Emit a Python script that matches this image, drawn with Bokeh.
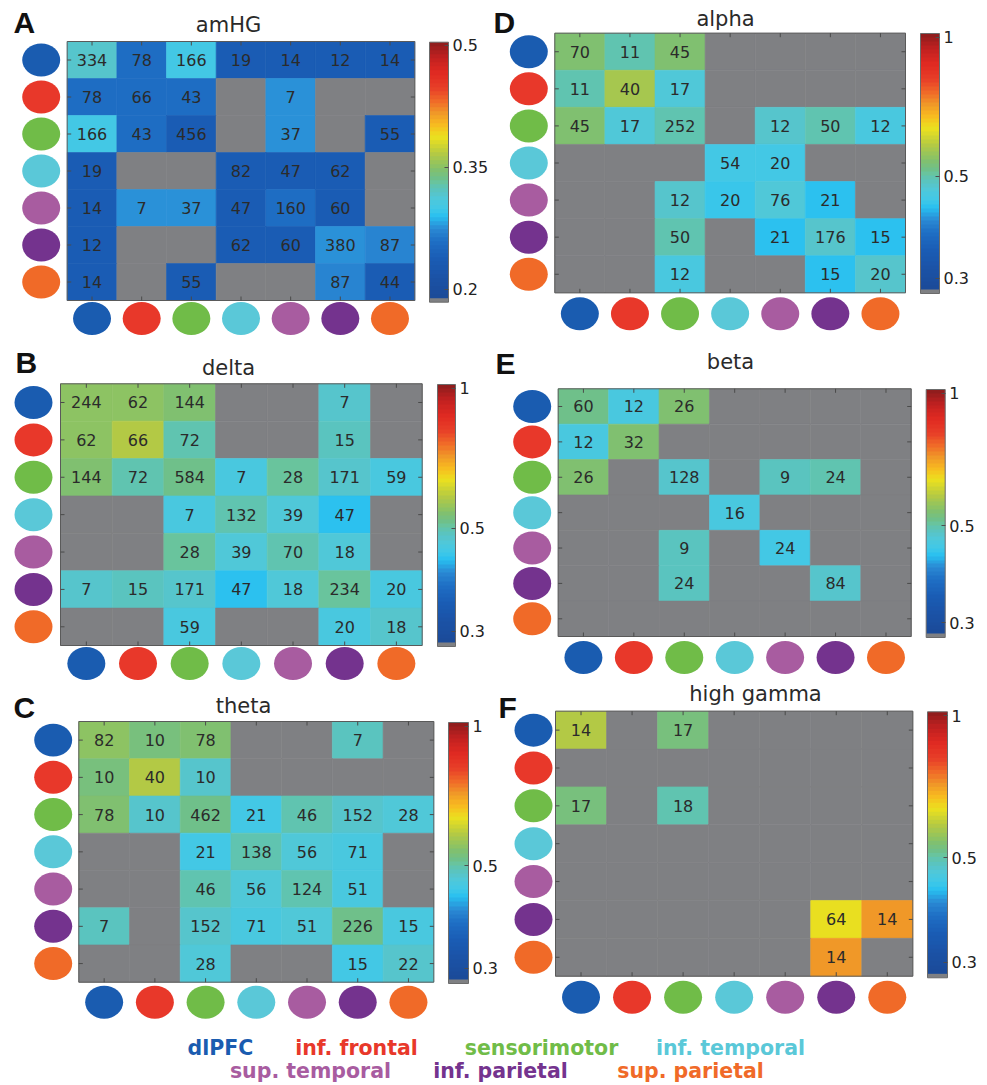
import numpy as np
from bokeh.plotting import figure
from bokeh.models import (LinearColorMapper, LogColorMapper, ColorBar, FixedTicker,
                          CustomJSTickFormatter, Label, Range1d, ColumnDataSource)
from bokeh.layouts import column, row
from bokeh.transform import transform
from bokeh.core.properties import value
from bokeh.embed import file_html
from bokeh.resources import INLINE

# ---------------------------------------------------------------- data
regions = ["dlPFC", "inf. frontal", "sensorimotor", "inf. temporal",
           "sup. temporal", "inf. parietal", "sup. parietal"]
region_colors = ["#1a5cb0", "#e8382a", "#70bc48", "#5ac8d8",
                 "#a85ca0", "#74338e", "#f06a28"]

N = None

# number of electrode pairs per region pair
amhg_counts = [
    [334, 78, 166, 19, 14, 12, 14],
    [78, 66, 43, N, 7, N, N],
    [166, 43, 456, N, 37, N, 55],
    [19, N, N, 82, 47, 62, N],
    [14, 7, 37, 47, 160, 60, N],
    [12, N, N, 62, 60, 380, 87],
    [14, N, 55, N, N, 87, 44],
]
# mean coupling per region pair
amhg_values = [
    [0.318, 0.258, 0.302, 0.236, 0.236, 0.236, 0.236],
    [0.258, 0.258, 0.258, N, 0.274, N, N],
    [0.302, 0.258, 0.236, N, 0.274, N, 0.236],
    [0.236, N, N, 0.236, 0.236, 0.236, N],
    [0.236, 0.274, 0.274, 0.236, 0.258, 0.236, N],
    [0.236, N, N, 0.236, 0.236, 0.274, 0.271],
    [0.236, N, 0.236, N, N, 0.271, 0.236],
]

delta_counts = [
    [244, 62, 144, N, N, 7, N],
    [62, 66, 72, N, N, 15, N],
    [144, 72, 584, 7, 28, 171, 59],
    [N, N, 7, 132, 39, 47, N],
    [N, N, 28, 39, 70, 18, N],
    [7, 15, 171, 47, 18, 234, 20],
    [N, N, 59, N, N, 20, 18],
]
delta_values = [
    [0.545, 0.545, 0.538, N, N, 0.473, N],
    [0.545, 0.581, 0.492, N, N, 0.486, N],
    [0.538, 0.492, 0.518, 0.456, 0.505, 0.479, 0.456],
    [N, N, 0.456, 0.492, 0.467, 0.433, N],
    [N, N, 0.505, 0.467, 0.498, 0.467, N],
    [0.473, 0.486, 0.479, 0.433, 0.467, 0.505, 0.456],
    [N, N, 0.456, N, N, 0.456, 0.479],
]

theta_counts = [
    [82, 10, 78, N, N, 7, N],
    [10, 40, 10, N, N, N, N],
    [78, 10, 462, 21, 46, 152, 28],
    [N, N, 21, 138, 56, 71, N],
    [N, N, 46, 56, 124, 51, N],
    [7, N, 152, 71, 51, 226, 15],
    [N, N, 28, N, N, 15, 22],
]
theta_values = [
    [0.552, 0.531, 0.538, N, N, 0.486, N],
    [0.531, 0.581, 0.479, N, N, N, N],
    [0.538, 0.479, 0.518, 0.444, 0.498, 0.479, 0.467],
    [N, N, 0.444, 0.498, 0.467, 0.456, N],
    [N, N, 0.498, 0.467, 0.498, 0.456, N],
    [0.486, N, 0.479, 0.456, 0.467, 0.518, 0.456],
    [N, N, 0.467, N, N, 0.444, 0.479],
]

alpha_counts = [
    [70, 11, 45, N, N, N, N],
    [11, 40, 17, N, N, N, N],
    [45, 17, 252, N, 12, 50, 12],
    [N, N, N, 54, 20, N, N],
    [N, N, 12, 20, 76, 21, N],
    [N, N, 50, N, 21, 176, 15],
    [N, N, 12, N, N, 15, 20],
]
alpha_values = [
    [0.538, 0.498, 0.538, N, N, N, N],
    [0.498, 0.573, 0.467, N, N, N, N],
    [0.538, 0.467, 0.498, N, 0.479, 0.498, 0.456],
    [N, N, N, 0.444, 0.444, N, N],
    [N, N, 0.479, 0.438, 0.467, 0.427, N],
    [N, N, 0.498, N, 0.427, 0.479, 0.433],
    [N, N, 0.456, N, N, 0.433, 0.479],
]

beta_counts = [
    [60, 12, 26, N, N, N, N],
    [12, 32, N, N, N, N, N],
    [26, N, 128, N, 9, 24, N],
    [N, N, N, 16, N, N, N],
    [N, N, 9, N, 24, N, N],
    [N, N, 24, N, N, 84, N],
    [N, N, N, N, N, N, N],
]
beta_values = [
    [0.518, 0.456, 0.538, N, N, N, N],
    [0.456, 0.538, N, N, N, N, N],
    [0.538, N, 0.479, N, 0.486, 0.498, N],
    [N, N, N, 0.456, N, N, N],
    [N, N, 0.486, N, 0.444, N, N],
    [N, N, 0.486, N, N, 0.479, N],
    [N, N, N, N, N, N, N],
]

hgamma_counts = [
    [14, N, 17, N, N, N, N],
    [N, N, N, N, N, N, N],
    [17, N, 18, N, N, N, N],
    [N, N, N, N, N, N, N],
    [N, N, N, N, N, N, N],
    [N, N, N, N, N, 64, 14],
    [N, N, N, N, N, 14, N],
]
hgamma_values = [
    [0.588, N, 0.531, N, N, N, N],
    [N, N, N, N, N, N, N],
    [0.531, N, 0.492, N, N, N, N],
    [N, N, N, N, N, N, N],
    [N, N, N, N, N, N, N],
    [N, N, N, N, N, 0.635, 0.713],
    [N, N, N, N, N, 0.713, N],
]

amhg_ticks = [0.2, 0.35, 0.5]
band_ticks = [0.3, 0.5, 1]

# ---------------------------------------------------------------- styling
GRAY = "#7f8083"
INK = "#2b2b2b"
FONT = "DejaVu Sans"
# Bokeh's "alphabetic" anchor sits a little below the true baseline
BASE_LIFT = 0.36

jet_stops = [
    (0.00, "#1b4a98"), (0.08, "#1b52a6"), (0.15, "#1a5cb4"), (0.22, "#1e6ec4"),
    (0.27, "#2a88d4"), (0.32, "#28c0f0"), (0.35, "#40c8e8"), (0.37, "#48c8e0"),
    (0.39, "#50c8d8"), (0.41, "#58c4c8"), (0.43, "#5cc4b8"), (0.45, "#68c4a0"),
    (0.47, "#70c088"), (0.50, "#80c070"), (0.52, "#90c460"), (0.56, "#b0c848"),
    (0.57, "#b8cc40"), (0.63, "#ece01e"), (0.68, "#f8b820"), (0.72, "#f09a28"),
    (0.77, "#f06a28"), (0.82, "#e84028"), (0.88, "#e02a22"), (0.94, "#c02020"),
    (1.00, "#8a1c1c"),
]


def banded_palette(stops, n):
    ts = np.array([s[0] for s in stops])
    rgb = np.array([[int(c[i:i + 2], 16) for i in (1, 3, 5)] for _, c in stops], float)
    out = []
    for k in range(n):
        t = (k + 0.5) / n
        r, g, b = (np.interp(t, ts, rgb[:, ch]) for ch in range(3))
        out.append("#%02x%02x%02x" % (int(round(r)), int(round(g)), int(round(b))))
    return out


PALETTE = [GRAY] + banded_palette(jet_stops, 63)

# panel geometry in page pixels: heat box (x0, x1, y0, y1), colour bar box,
# title centre/baseline, letter left/baseline, ellipse offsets
panels = [
    dict(letter="A", title="amHG", counts=amhg_counts, vals=amhg_values, log=False,
         ticks=amhg_ticks, lim=(0.184, 0.504),
         origin=(0, 0), size=(490, 340), heat=(66.7, 414.3, 41, 300),
         cbar=(429, 448, 41.7, 301.7), title_at=(228, 32), letter_at=(13, 33),
         left_off=26, bottom_off=18),
    dict(letter="D", title="alpha", counts=alpha_counts, vals=alpha_values, log=True,
         ticks=band_ticks, lim=(0.278, 1.02),
         origin=(490, 0), size=(497, 340), heat=(554.3, 905, 32.7, 292.3),
         cbar=(920, 939, 33, 293), title_at=(725, 26), letter_at=(493, 33),
         left_off=26, bottom_off=21),
    dict(letter="B", title="delta", counts=delta_counts, vals=delta_values, log=True,
         ticks=band_ticks, lim=(0.278, 1.02),
         origin=(0, 340), size=(490, 340), heat=(60, 421.7, 383.3, 645),
         cbar=(437, 455, 384, 646), title_at=(228, 375), letter_at=(15, 373),
         left_off=27, bottom_off=18),
    dict(letter="E", title="beta", counts=beta_counts, vals=beta_values, log=True,
         ticks=band_ticks, lim=(0.278, 1.02),
         origin=(490, 340), size=(497, 340), heat=(557.7, 910.7, 388.3, 636),
         cbar=(925.7, 944.3, 389, 637), title_at=(730, 369), letter_at=(495, 374),
         left_off=26, bottom_off=21),
    dict(letter="C", title="theta", counts=theta_counts, vals=theta_values, log=True,
         ticks=band_ticks, lim=(0.278, 1.02),
         origin=(0, 680), size=(498, 340), heat=(78.3, 433.3, 721, 981.7),
         cbar=(448, 468, 721.7, 983), title_at=(243, 713), letter_at=(13, 718),
         left_off=25.6, bottom_off=20),
    dict(letter="F", title="high gamma", counts=hgamma_counts, vals=hgamma_values, log=True,
         ticks=band_ticks, lim=(0.278, 1.02),
         origin=(498, 680), size=(489, 340), heat=(555, 912.3, 710.7, 975.7),
         cbar=(927, 946.7, 711.7, 977.3), title_at=(755, 701), letter_at=(498, 718),
         left_off=22, bottom_off=21),
]


def make_panel(spec):
    ox, oy = spec["origin"]
    W, H = spec["size"]
    n = len(regions)
    hx0, hx1 = spec["heat"][0] - ox, spec["heat"][1] - ox
    hy0, hy1 = spec["heat"][2] - oy, spec["heat"][3] - oy
    cw = (hx1 - hx0) / n
    ch = (hy1 - hy0) / n
    lo_edge, hi_edge = 0.5, n + 0.5

    p = figure(width=W, height=H, title=None, output_backend="svg", toolbar_location=None,
               x_range=Range1d(lo_edge - hx0 / cw, hi_edge + (W - hx1) / cw),
               y_range=Range1d(hi_edge + (H - hy1) / ch, lo_edge - hy0 / ch),
               x_axis_location=None, y_axis_location=None, min_border=0,
               outline_line_color=None, background_fill_color="white",
               border_fill_color="white")
    p.xgrid.visible = False
    p.ygrid.visible = False

    lo, hi = spec["lim"]
    Mapper = LogColorMapper if spec["log"] else LinearColorMapper
    mapper = Mapper(palette=PALETTE, low=lo, high=hi, nan_color=GRAY)

    xs, ys, vs = [], [], []
    tx, ty, tt = [], [], []
    for i in range(n):
        for j in range(n):
            v = spec["vals"][i][j]
            xs.append(j + 1)
            ys.append(i + 1)
            vs.append(np.nan if v is None else v)
            c = spec["counts"][i][j]
            if c is not None:
                tx.append(j + 1)
                ty.append(i + 1)
                tt.append(str(c))
    cells = ColumnDataSource(dict(x=xs, y=ys, v=np.array(vs, dtype=float)))
    p.rect("x", "y", width=1, height=1, source=cells,
           fill_color=transform("v", mapper), line_color=transform("v", mapper),
           line_width=0.6)

    p.text(tx, ty, text=tt, text_align="center", text_baseline="middle",
           text_font=value(FONT), text_font_size="16px", text_color=INK)

    # box and inward ticks
    mid = (n + 1) / 2
    p.rect([mid], [mid], width=[n], height=[n], fill_color=None,
           line_color="#5a5a5a", line_width=1)
    k = np.arange(1, n + 1)
    tlx, tly = 4 / cw, 4 / ch
    p.segment(k, np.full(n, lo_edge), k, np.full(n, lo_edge + tly), line_color="#4a4a4a")
    p.segment(k, np.full(n, hi_edge), k, np.full(n, hi_edge - tly), line_color="#4a4a4a")
    p.segment(np.full(n, lo_edge), k, np.full(n, lo_edge + tlx), k, line_color="#4a4a4a")
    p.segment(np.full(n, hi_edge), k, np.full(n, hi_edge - tlx), k, line_color="#4a4a4a")

    # region markers along the rows and columns
    lx = lo_edge - spec["left_off"] / cw
    by = hi_edge + spec["bottom_off"] / ch
    p.ellipse(x=np.full(n, lx), y=k, width=38, height=33, width_units="screen",
              height_units="screen", fill_color=region_colors, line_color=None)
    p.ellipse(x=k, y=np.full(n, by), width=38, height=33, width_units="screen",
              height_units="screen", fill_color=region_colors, line_color=None)

    cx0, cx1 = spec["cbar"][0] - ox, spec["cbar"][1] - ox
    cy0, cy1 = spec["cbar"][2] - oy, spec["cbar"][3] - oy
    cb = ColorBar(color_mapper=mapper, location=(cx0, H - cy1),
                  width=int(round(cx1 - cx0)), height=int(round(cy1 - cy0)),
                  padding=0, margin=0,
                  ticker=FixedTicker(ticks=spec["ticks"]),
                  formatter=CustomJSTickFormatter(code="return String(tick)"),
                  major_label_text_font=FONT, major_label_text_font_size="16px",
                  major_label_text_color="#222222",
                  major_tick_line_color="#4d4d4d", major_tick_in=4, major_tick_out=0,
                  minor_tick_line_color=None, bar_line_color="#6b6b6b",
                  border_line_color=None, background_fill_alpha=0, label_standoff=4)
    p.add_layout(cb)

    tx_, tb_ = spec["title_at"]
    p.add_layout(Label(x=tx_ - ox, y=H - (tb_ - oy) + BASE_LIFT * 21,
                       x_units="screen", y_units="screen",
                       text=spec["title"], text_align="center", text_baseline="alphabetic",
                       text_font=FONT, text_font_size="21px", text_color="#2a2a2a"))
    lx_, lb_ = spec["letter_at"]
    p.add_layout(Label(x=lx_ - ox, y=H - (lb_ - oy) + BASE_LIFT * 30,
                       x_units="screen", y_units="screen",
                       text=spec["letter"], text_align="left", text_baseline="alphabetic",
                       text_font="Liberation Sans", text_font_style="bold",
                       text_font_size="30px", text_color="#111111"))
    return p


figs = {s["letter"]: make_panel(s) for s in panels}

# region key below the panels
legend_x = [220, 356, 541, 730, 310, 500, 690]
legend_base = [35, 35, 35, 35, 58, 58, 58]
key = figure(width=987, height=65, title=None, output_backend="svg", toolbar_location=None,
             x_range=Range1d(0, 987), y_range=Range1d(65, 0),
             x_axis_location=None, y_axis_location=None, min_border=0,
             outline_line_color=None, border_fill_color="white")
key.xgrid.visible = False
key.ygrid.visible = False
key.text(legend_x, [b - BASE_LIFT * 20.5 for b in legend_base], text=regions,
         text_color=region_colors, text_align="center", text_baseline="alphabetic",
         text_font=value(FONT), text_font_style="bold", text_font_size="20.5px")

layout = column(row(figs["A"], figs["D"]), row(figs["B"], figs["E"]),
                row(figs["C"], figs["F"]), key)

open("out.html", "w").write(file_html(layout, INLINE))
